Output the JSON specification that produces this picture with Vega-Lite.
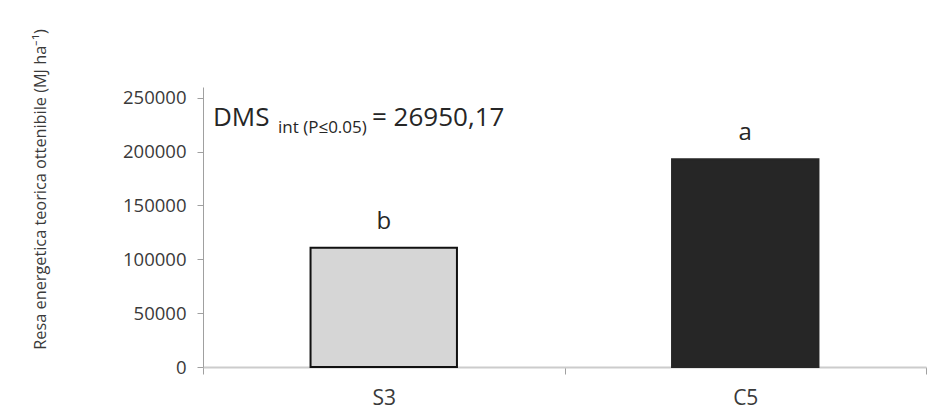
{
  "$schema": "https://vega.github.io/schema/vega-lite/v6.json",
  "width": 723,
  "height": 280,
  "autosize": {"type": "none"},
  "padding": {"left": 203, "top": 87, "right": 13, "bottom": 45},
  "background": "white",
  "config": {
    "view": {"stroke": null},
    "font": "Open Sans",
    "axis": {"grid": false, "labelFont": "Open Sans", "titleFont": "Open Sans", "labelColor": "#3a3a3a", "titleColor": "#3a3a3a", "titleFontWeight": "normal"}
  },
  "data": {
    "values": [
      {"trattamento": "S3", "resa": 110700, "lettera": "b"},
      {"trattamento": "C5", "resa": 193000, "lettera": "a"}
    ]
  },
  "layer": [
    {
      "mark": {"type": "bar", "strokeWidth": 2, "width": {"band": 0.405}},
      "encoding": {
        "x": {
          "field": "trattamento", "type": "nominal", "sort": ["S3", "C5"],
          "scale": {"paddingInner": 0, "paddingOuter": 0},
          "axis": {"title": null, "labelAngle": 0, "labelFontSize": 21, "labelPadding": 13, "tickSize": 7, "tickBand": "extent", "domainColor": "#cccccc", "tickColor": "#a0a0a0", "domainWidth": 2}
        },
        "y": {
          "field": "resa", "type": "quantitative",
          "scale": {"domain": [0, 250000]},
          "axis": {"values": [0, 50000, 100000, 150000, 200000, 250000], "format": "d", "labelFontSize": 18.5, "tickSize": 6, "labelPadding": 11, "domainColor": "#a0a0a0", "tickColor": "#a0a0a0",
                   "title": "Resa energetica teorica ottenibile (MJ ha⁻¹)", "titleFontSize": 16.3, "titleX": -163, "titleY": 102, "titleAngle": 270, "titleAlign": "center", "titleBaseline": "middle"}
        },
        "fill": {
          "field": "trattamento", "type": "nominal",
          "scale": {"domain": ["S3", "C5"], "range": ["#d6d6d6", "#262626"]},
          "legend": null
        },
        "stroke": {
          "field": "trattamento", "type": "nominal",
          "scale": {"domain": ["S3", "C5"], "range": ["#111111", "#262626"]},
          "legend": null
        }
      }
    },
    {
      "mark": {"type": "text", "fontSize": 24, "baseline": "alphabetic", "dy": -19, "color": "#262626", "font": "Open Sans"},
      "encoding": {
        "x": {"field": "trattamento", "type": "nominal", "sort": ["S3", "C5"]},
        "y": {"field": "resa", "type": "quantitative"},
        "text": {"field": "lettera"}
      }
    },
    {
      "data": {"values": [{"t": "DMS"}]},
      "mark": {"type": "text", "fontSize": 26, "align": "left", "baseline": "alphabetic", "color": "#262626", "font": "Open Sans"},
      "encoding": {"x": {"value": 10}, "y": {"datum": 224000}, "text": {"field": "t"}}
    },
    {
      "data": {"values": [{"t": "int (P≤0.05)"}]},
      "mark": {"type": "text", "fontSize": 17, "align": "left", "baseline": "alphabetic", "color": "#262626", "font": "Open Sans"},
      "encoding": {"x": {"value": 75}, "y": {"datum": 217000}, "text": {"field": "t"}}
    },
    {
      "data": {"values": [{"t": "= 26950,17"}]},
      "mark": {"type": "text", "fontSize": 26, "align": "left", "baseline": "alphabetic", "color": "#262626", "font": "Open Sans"},
      "encoding": {"x": {"value": 169}, "y": {"datum": 224000}, "text": {"field": "t"}}
    }
  ]
}
